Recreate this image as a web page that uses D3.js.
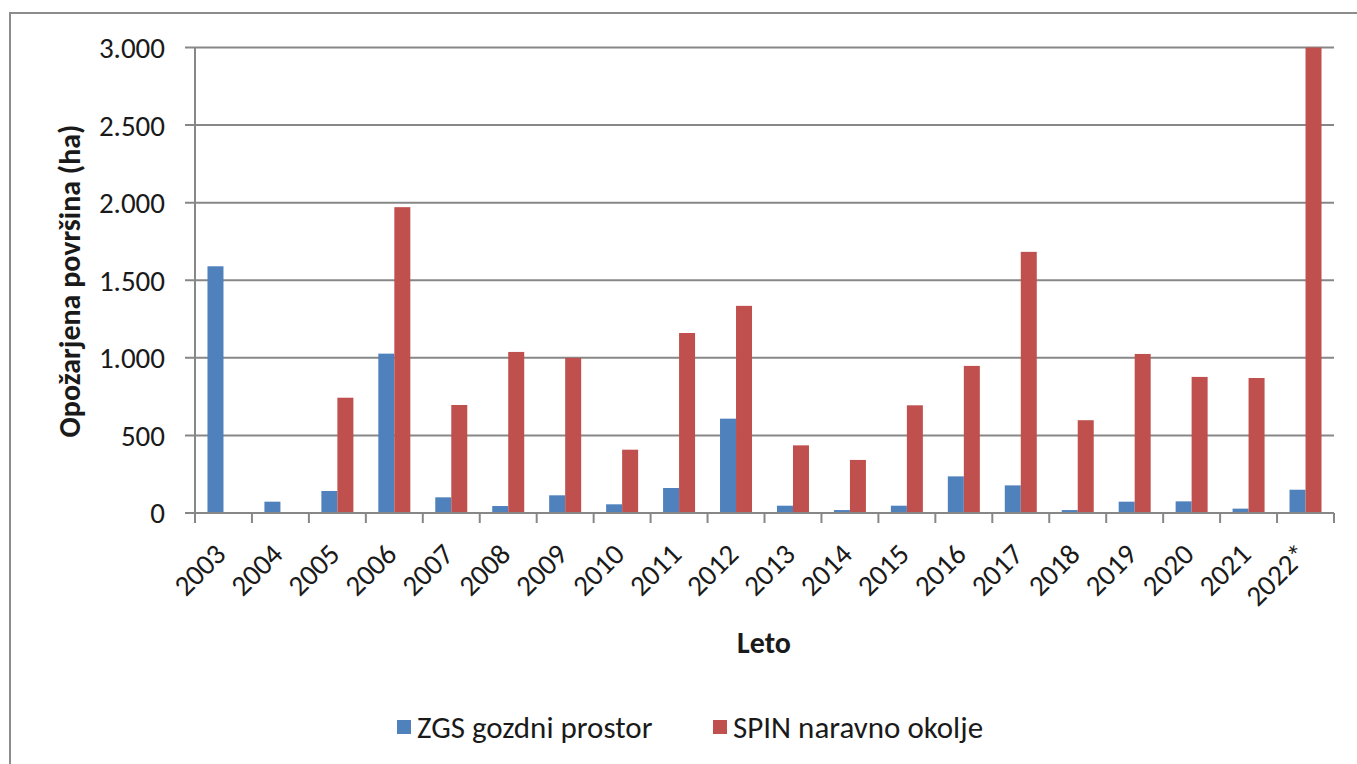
<!DOCTYPE html>
<html>
<head>
<meta charset="utf-8">
<script src="https://cdnjs.cloudflare.com/ajax/libs/d3/7.8.5/d3.min.js"></script>
<style>
  body { margin: 0; background: #fff; }
  text { font-family: Carlito, Lato, "Open Sans", sans-serif; fill: #1a1a1a; }
</style>
</head>
<body>
<div id="chart"></div>
<script>
var years = ["2003", "2004", "2005", "2006", "2007", "2008", "2009", "2010", "2011", "2012",
             "2013", "2014", "2015", "2016", "2017", "2018", "2019", "2020", "2021", "2022*"];
var zgs = [1590, 73, 142, 1027, 101, 45, 114, 56, 161, 608,
           47, 19, 47, 236, 178, 19, 73, 75, 28, 150];
var spin = [0, 0, 743, 1971, 696, 1038, 1000, 408, 1160, 1335,
            436, 342, 694, 948, 1683, 598, 1025, 877, 870, 3000];
var seriesNames = ["ZGS gozdni prostor", "SPIN naravno okolje"];
var seriesColors = ["#4f81bd", "#c0504d"];
var yTicks = [0, 500, 1000, 1500, 2000, 2500, 3000];

var width = 1357,
    height = 764,
    plotLeft = 195, plotRight = 1334, plotTop = 47.5, plotBottom = 513;

var svg = d3.select("#chart").append("svg")
    .attr("width", width)
    .attr("height", height);

// outer frame
svg.append("rect")
    .attr("x", 10).attr("y", 13)
    .attr("width", 1360).attr("height", 800)
    .attr("fill", "none")
    .attr("stroke", "#8c8c8c")
    .attr("stroke-width", 2);

var x = d3.scaleBand().domain(years).range([plotLeft, plotRight]).padding(0);
var xs = d3.scaleBand().domain([0, 1]).range([0, 32]);
var y = d3.scaleLinear().domain([0, 3000]).range([plotBottom, plotTop]);

var fmt = function(d) { return d3.format(",")(d).replace(/,/g, "."); };

// gridlines + y ticks
var grid = svg.append("g");
grid.selectAll("line")
    .data(yTicks)
    .enter().append("line")
    .attr("x1", plotLeft - 10)
    .attr("x2", plotRight)
    .attr("y1", function(d) { return y(d); })
    .attr("y2", function(d) { return y(d); })
    .attr("stroke", "#878787")
    .attr("stroke-width", 2);

grid.selectAll("text")
    .data(yTicks)
    .enter().append("text")
    .attr("x", 165)
    .attr("y", function(d) { return y(d); })
    .attr("dy", "0.36em")
    .attr("text-anchor", "end")
    .style("font-size", "29px")
    .text(fmt);

// bars
var rows = years.map(function(yr, i) { return { year: yr, vals: [zgs[i], spin[i]] }; });

var groups = svg.append("g").selectAll("g")
    .data(rows)
    .enter().append("g")
    .attr("transform", function(d) { return "translate(" + (x(d.year) + (x.bandwidth() - 32) / 2) + ",0)"; });

groups.selectAll("rect")
    .data(function(d) { return d.vals; })
    .enter().append("rect")
    .attr("x", function(d, i) { return xs(i); })
    .attr("width", xs.bandwidth())
    .attr("y", function(d) { return y(d); })
    .attr("height", function(d) { return y(0) - y(d); })
    .attr("fill", function(d, i) { return seriesColors[i]; });

// axes lines
svg.append("line")
    .attr("x1", plotLeft).attr("x2", plotLeft)
    .attr("y1", plotTop).attr("y2", plotBottom)
    .attr("stroke", "#878787").attr("stroke-width", 2);
svg.append("line")
    .attr("x1", plotLeft).attr("x2", plotRight)
    .attr("y1", plotBottom).attr("y2", plotBottom)
    .attr("stroke", "#878787").attr("stroke-width", 2);

// x ticks at category boundaries
var bounds = years.map(function(d) { return x(d); }).concat([plotRight]);
svg.append("g").selectAll("line")
    .data(bounds)
    .enter().append("line")
    .attr("x1", function(d) { return d; })
    .attr("x2", function(d) { return d; })
    .attr("y1", plotBottom)
    .attr("y2", plotBottom + 10)
    .attr("stroke", "#878787")
    .attr("stroke-width", 2);

// x labels
svg.append("g").selectAll("text")
    .data(years)
    .enter().append("text")
    .attr("text-anchor", "end")
    .attr("transform", function(d) {
        return "translate(" + (x(d) + x.bandwidth() / 2 + 4) + "," + (plotBottom + 43) + ") rotate(-45)";
    })
    .style("font-size", "29px")
    .text(function(d) { return d; });

// axis titles
svg.append("text")
    .attr("x", 764)
    .attr("y", 653)
    .attr("text-anchor", "middle")
    .style("font-size", "30px")
    .style("font-weight", "bold")
    .text("Leto");

svg.append("text")
    .attr("transform", "translate(80,281) rotate(-90)")
    .attr("text-anchor", "middle")
    .style("font-size", "30px")
    .style("font-weight", "bold")
    .text("Opožarjena površina (ha)");

// legend
var legendX = [397, 713];
var legend = svg.append("g").selectAll("g")
    .data(seriesNames)
    .enter().append("g")
    .attr("transform", function(d, i) { return "translate(" + legendX[i] + ",720)"; });

legend.append("rect")
    .attr("width", 14)
    .attr("height", 14)
    .attr("fill", function(d, i) { return seriesColors[i]; });

legend.append("text")
    .attr("x", 20)
    .attr("y", 7)
    .attr("dy", "0.36em")
    .style("font-size", "31px")
    .text(function(d) { return d; });
</script>
</body>
</html>
